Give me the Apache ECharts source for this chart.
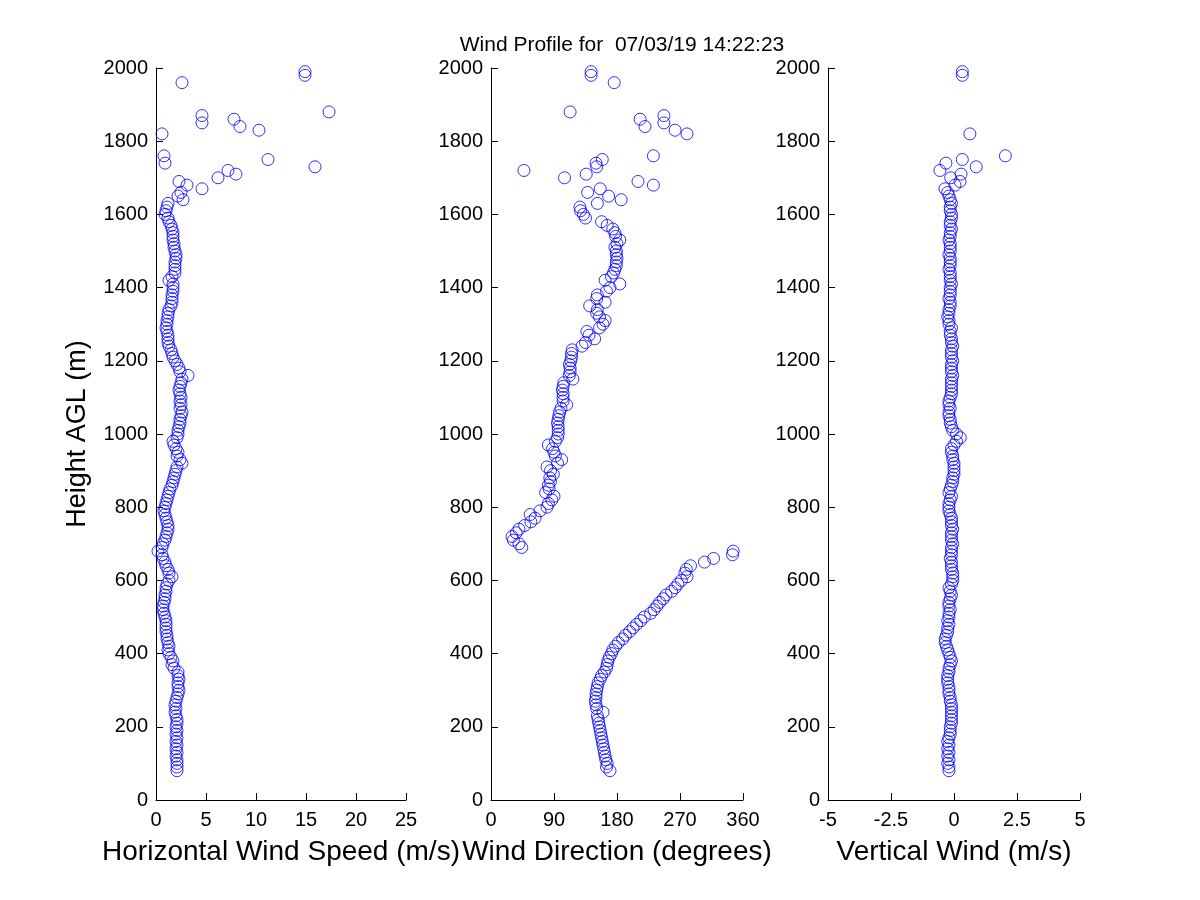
<!DOCTYPE html>
<html>
<head>
<meta charset="utf-8">
<script src="https://cdn.jsdelivr.net/npm/echarts@6/dist/echarts.min.js"></script>
<style>html,body{margin:0;padding:0;background:#fff;}#c{width:1200px;height:900px;}</style>
</head>
<body>
<div id="c"></div>
<script>
const titleText = 'Wind Profile for  07/03/19 14:22:23';
const yName = 'Height AGL (m)';
const xNames = ['Horizontal Wind Speed (m/s)', 'Wind Direction (degrees)', 'Vertical Wind (m/s)'];

const heights = [
  80,90,100,110,120,130,140,150,160,170,
  180,190,200,210,220,230,240,250,260,270,
  280,290,300,310,320,330,340,350,360,370,
  380,390,400,410,420,430,440,450,460,470,
  480,490,500,510,520,530,540,550,560,570,
  580,590,600,610,620,630,640,650,660,670,
  680,690,700,710,720,730,740,750,760,770,
  780,790,800,810,820,830,840,850,860,870,
  880,890,900,910,920,930,940,950,960,970,
  980,990,1000,1010,1020,1030,1040,1050,1060,1070,
  1080,1090,1100,1110,1120,1130,1140,1150,1160,1170,
  1180,1190,1200,1210,1220,1230,1240,1250,1260,1270,
  1280,1290,1300,1310,1320,1330,1340,1350,1360,1370,
  1380,1390,1400,1410,1420,1430,1440,1450,1460,1470,
  1480,1490,1500,1510,1520,1530,1540,1550,1560,1570,
  1580,1590,1600,1610,1620,
  1630,1640,1650,1660,1670,1680,1690,1700,1710,1720,1730,1740,1750,1760,
  1820,1830,1840,1850,1860,1870,1880,1960,1980,1990
];

const windSpeed = [
  2.1,2.1,2.1,2.1,2.0,2.1,2.0,2.1,2.0,2.1,
  2.0,2.1,2.0,2.1,2.1,2.0,1.9,2.0,1.9,2.0,
  2.1,2.2,2.3,2.2,2.2,2.3,2.2,2.2,1.8,1.6,
  1.7,1.5,1.3,1.2,1.3,1.2,1.1,1.1,1.0,1.0,
  1.0,1.0,0.9,0.8,0.7,0.7,0.8,0.9,0.9,1.0,
  1.0,1.1,1.3,1.6,1.3,1.2,1.0,0.9,0.7,0.6,
  0.2,0.6,0.7,0.9,1.0,1.1,1.2,1.2,1.1,1.0,
  0.9,0.8,0.9,1.0,1.1,1.2,1.3,1.4,1.6,1.7,
  1.8,1.9,2.0,2.1,2.6,2.4,2.1,2.2,2.0,1.8,
  1.7,2.1,2.2,2.2,2.3,2.4,2.4,2.5,2.6,2.4,
  2.5,2.4,2.5,2.4,2.3,2.4,2.5,2.6,3.2,2.4,
  2.3,2.1,1.9,1.7,1.6,1.5,1.3,1.2,1.2,1.2,
  1.1,1.0,1.1,1.1,1.2,1.2,1.3,1.5,1.6,1.6,
  1.6,1.7,1.7,1.7,1.3,1.6,1.9,1.9,1.9,1.9,
  2.0,2.0,1.9,1.8,1.8,1.7,1.7,1.7,1.6,1.5,
  1.3,1.2,0.9,1.0,1.1,
  1.2,2.7,2.2,2.5,4.6,3.1,2.3,6.2,8.0,7.2,15.9,0.9,11.2,0.8,
  0.6,10.3,8.4,4.6,7.8,4.6,17.3,2.6,14.9,14.9
];

const windDir = [
  170,165,166,164,163,162,161,160,159,158,
  157,156,155,154,153,152,160,151,150,149,
  150,150,151,152,153,156,158,162,165,166,
  167,169,172,174,178,182,188,192,198,203,
  208,214,219,228,233,237,241,246,250,258,
  263,267,272,280,277,279,285,305,318,345,
  346,44,40,32,30,36,40,48,57,63,
  56,70,80,82,87,90,78,83,82,85,
  84,89,85,80,95,101,92,90,88,82,
  92,95,96,96,96,95,96,97,98,100,
  108,103,103,103,102,103,104,117,112,113,
  113,112,114,115,115,116,130,135,148,140,
  137,155,160,163,155,151,152,141,163,151,
  152,165,170,184,163,172,175,177,179,179,
  180,179,179,177,180,184,178,177,174,166,
  158,135,132,128,127,
  152,186,168,138,156,232,210,105,136,47,151,150,159,232,
  280,263,220,247,213,247,113,176,143,143
];

const vertWind = [
  -0.2,-0.2,-0.25,-0.2,-0.25,-0.2,-0.25,-0.2,-0.25,-0.2,
  -0.15,-0.15,-0.15,-0.1,-0.1,-0.1,-0.1,-0.1,-0.1,-0.15,
  -0.15,-0.2,-0.2,-0.2,-0.25,-0.25,-0.25,-0.2,-0.2,-0.15,
  -0.1,-0.15,-0.2,-0.25,-0.3,-0.35,-0.35,-0.3,-0.25,-0.25,
  -0.2,-0.25,-0.2,-0.2,-0.15,-0.2,-0.2,-0.15,-0.1,-0.15,
  -0.2,-0.1,-0.05,-0.05,-0.05,-0.1,-0.1,-0.1,-0.15,-0.1,
  -0.1,-0.1,-0.05,-0.1,-0.1,-0.1,-0.05,-0.1,-0.1,-0.1,
  -0.15,-0.2,-0.2,-0.2,-0.15,-0.1,-0.2,-0.15,-0.1,-0.05,
  -0.05,0,0,0,0,-0.05,-0.05,-0.1,-0.1,0,
  0.1,0.25,0.1,-0.05,-0.1,-0.15,-0.15,-0.2,-0.2,-0.15,
  -0.2,-0.2,-0.15,-0.1,-0.1,-0.1,-0.1,-0.1,-0.05,-0.1,
  -0.1,-0.1,-0.05,-0.1,-0.1,-0.1,-0.05,-0.1,-0.1,-0.15,
  -0.15,-0.1,-0.2,-0.2,-0.25,-0.2,-0.2,-0.15,-0.15,-0.2,
  -0.15,-0.15,-0.15,-0.1,-0.15,-0.15,-0.15,-0.2,-0.15,-0.15,
  -0.15,-0.2,-0.15,-0.15,-0.15,-0.2,-0.15,-0.15,-0.1,-0.15,
  -0.15,-0.1,-0.1,-0.15,-0.15,
  -0.1,-0.15,-0.2,-0.25,-0.36,0.04,0.24,-0.13,0.28,-0.56,0.88,-0.32,0.33,2.04,
  0.63,null,null,null,null,null,null,null,0.33,0.33
];

const xRanges = [[0, 25, 5], [0, 360, 90], [-5, 5, 2.5]];
const xTickLabels = [['0','5','10','15','20','25'], ['0','90','180','270','360'], ['-5','-2.5','0','2.5','5']];
const yMin = 0, yMax = 2000, yStep = 200;

const font = 'Liberation Sans, Arial, Helvetica, sans-serif';
function pairs(vals) {
  const out = [];
  for (let i = 0; i < heights.length; i++) {
    if (vals[i] !== null && vals[i] !== undefined) out.push([vals[i], heights[i]]);
  }
  return out;
}

const grids = [
  { left: 156, width: 250, top: 68, height: 732 },
  { left: 491, width: 252, top: 68, height: 732 },
  { left: 828, width: 252, top: 68, height: 732 }
];

const axisLine = { show: true, onZero: false, lineStyle: { color: '#000', width: 1 } };
const axisTick = { show: true, inside: true, length: 7, lineStyle: { color: '#000' } };

const xAxes = xRanges.map((r, i) => ({
  type: 'value', gridIndex: i, min: r[0], max: r[1], interval: r[2],
  axisLine, axisTick,
  splitLine: { show: false },
  axisLabel: {
    color: '#000', fontSize: 20, fontFamily: font, margin: 10,
    formatter: v => { const idx = Math.round((v - r[0]) / r[2]); return xTickLabels[i][idx] ?? String(v); }
  },
  name: xNames[i], nameLocation: 'middle', nameGap: 38,
  nameTextStyle: { color: '#000', fontSize: 28, fontFamily: font }
}));

const yAxes = [0, 1, 2].map(i => ({
  type: 'value', gridIndex: i, min: yMin, max: yMax, interval: yStep,
  axisLine, axisTick,
  splitLine: { show: false },
  axisLabel: { color: '#000', fontSize: 20, fontFamily: font, margin: 8, formatter: v => String(v) },
  name: i === 0 ? yName : '', nameLocation: 'middle', nameGap: 65,
  nameTextStyle: { color: '#000', fontSize: 27, fontFamily: font }
}));

const seriesVals = [windSpeed, windDir, vertWind];
const series = seriesVals.map((vals, i) => ({
  type: 'scatter', xAxisIndex: i, yAxisIndex: i,
  data: pairs(vals),
  symbol: 'circle', symbolSize: 12,
  itemStyle: { color: 'rgba(0,0,0,0)', borderColor: '#0000ff', borderWidth: 1 },
  emphasis: { disabled: true },
  silent: true
}));

const chart = echarts.init(document.getElementById('c'));
chart.setOption({
  animation: false,
  backgroundColor: '#fff',
  title: {
    text: titleText, left: 617, top: 30, textAlign: 'center',
    textStyle: { color: '#000', fontSize: 21, fontWeight: 'normal', fontFamily: font }
  },
  grid: grids,
  xAxis: xAxes,
  yAxis: yAxes,
  series
});
</script>
</body>
</html>
